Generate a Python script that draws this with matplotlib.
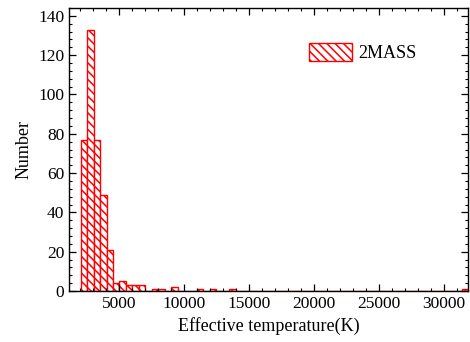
import numpy as np
import matplotlib
matplotlib.use("Agg")
import matplotlib.pyplot as plt
from matplotlib.ticker import MultipleLocator

plt.rcParams['font.family'] = ['Liberation Serif', 'DejaVu Serif']
plt.rcParams['hatch.color'] = 'red'
plt.rcParams['hatch.linewidth'] = 1.1

# Histogram of 2MASS effective temperatures: 60 equal bins from 2050 K to 31850 K
t_min = 2050.0
t_max = 31850.0
n_bins = 60
counts = [77, 133, 77, 49, 21, 4, 5, 3, 3, 3,
          0, 1, 1, 0, 2, 0, 0, 0, 1, 0,
          1, 0, 0, 1, 0, 0, 0, 0, 0, 0,
          0, 0, 0, 0, 0, 0, 0, 0, 0, 0,
          0, 0, 0, 0, 0, 0, 0, 0, 0, 0,
          0, 0, 0, 0, 0, 0, 0, 0, 0, 1]
x_ticks = [5000, 10000, 15000, 20000, 25000, 30000]
y_ticks = [0, 20, 40, 60, 80, 100, 120, 140]

edges = np.linspace(t_min, t_max, n_bins + 1)
counts = np.array(counts)

fig = plt.figure(figsize=(4.7, 3.42), dpi=100)
ax = fig.add_axes([69 / 470, 51 / 342, 399 / 470, 283 / 342])

ax.bar(edges[:-1], counts, width=np.diff(edges), align='edge',
       facecolor='white', edgecolor='red', linewidth=1.0,
       hatch='\\\\\\\\', label='2MASS')

ax.set_xlim(1150, t_max)
ax.set_ylim(0, 144)
ax.set_xticks(x_ticks)
ax.set_yticks(y_ticks)
ax.xaxis.set_minor_locator(MultipleLocator(1000))
ax.yaxis.set_minor_locator(MultipleLocator(4))
ax.tick_params(which='both', direction='in', top=True, right=True,
               labelsize=12.5, colors='black')
ax.tick_params(which='major', length=5, width=0.9)
ax.tick_params(which='minor', length=2.5, width=0.8)
for s in ax.spines.values():
    s.set_linewidth(1.0)

ax.set_xlabel('Effective temperature(K)', fontsize=13)
ax.set_ylabel('Number', fontsize=13)

leg = ax.legend(loc='upper left', bbox_to_anchor=(0.57, 0.92), frameon=False,
                fontsize=13, handlelength=2.4, handleheight=1.1,
                handletextpad=0.35, borderaxespad=0.3)

fig.savefig('out.png', dpi=100)
